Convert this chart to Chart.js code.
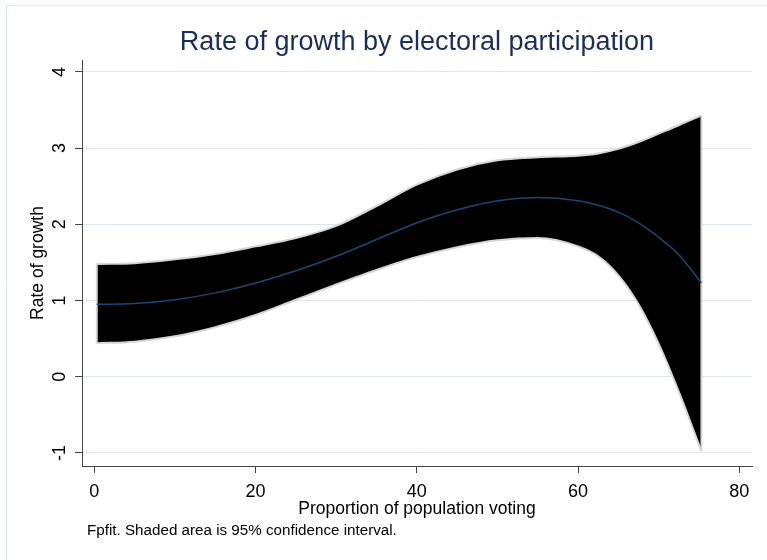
<!DOCTYPE html>
<html>
<head>
<meta charset="utf-8">
<script src="https://cdn.jsdelivr.net/npm/chart.js@4.4.1/dist/chart.umd.min.js"></script>
<style>
html,body{margin:0;padding:0;background:#fff;}
canvas{display:block;}
</style>
</head>
<body>
<canvas id="c" width="767" height="560"></canvas>
<script>
// ---- data ----
const voting  = [0.3, 5, 10, 15, 20, 25, 30, 35, 40, 45, 50, 55, 60, 62.5, 65, 67.5, 70, 72.5, 75.3];
const fitted  = [0.95, 0.96, 1.01, 1.10, 1.23, 1.39, 1.58, 1.80, 2.02, 2.19, 2.31, 2.35, 2.31, 2.25, 2.16, 2.02, 1.83, 1.60, 1.23];
const ciUpper = [1.48, 1.49, 1.54, 1.61, 1.71, 1.82, 1.98, 2.24, 2.52, 2.72, 2.84, 2.88, 2.90, 2.93, 2.99, 3.08, 3.19, 3.30, 3.43];
const ciLower = [0.44, 0.46, 0.53, 0.65, 0.81, 1.01, 1.21, 1.40, 1.57, 1.70, 1.79, 1.82, 1.71, 1.58, 1.33, 0.95, 0.43, -0.20, -0.98];
const xTicks = [0, 20, 40, 60, 80];
const yTicks = [-1, 0, 1, 2, 3, 4];
const titleText = 'Rate of growth by electoral participation';
const xTitle = 'Proportion of population voting';
const yTitle = 'Rate of growth';
const noteText = 'Fpfit. Shaded area is 95% confidence interval.';

const FONT = '"Liberation Sans", Arial, sans-serif';
const pts = (ys) => voting.map((x, i) => ({x: x, y: ys[i]}));
const last = voting.length - 1;

const framePlugin = {
  id: 'frame',
  beforeDraw(chart) {
    const ctx = chart.ctx;
    ctx.save();
    ctx.fillStyle = '#ffffff';
    ctx.fillRect(0, 0, chart.width, chart.height);
    ctx.strokeStyle = '#dde5ef';
    ctx.lineWidth = 1;
    ctx.beginPath();
    ctx.moveTo(6.5, chart.height);
    ctx.lineTo(6.5, 5.5);
    ctx.lineTo(chart.width, 5.5);
    ctx.stroke();
    ctx.restore();
  },
  afterDraw(chart) {
    const ctx = chart.ctx;
    ctx.save();
    ctx.fillStyle = '#000';
    ctx.font = '15.2px ' + FONT;
    ctx.textBaseline = 'middle';
    ctx.textAlign = 'left';
    ctx.fillText(noteText, 87, 531);
    ctx.restore();
  }
};

new Chart(document.getElementById('c'), {
  type: 'line',
  data: {
    datasets: [
      {
        label: 'fit', data: pts(fitted), borderColor: '#1a476f', borderWidth: 1.5,
        pointRadius: 0, fill: false, cubicInterpolationMode: 'monotone'
      },
      {
        label: 'upper', data: pts(ciUpper), borderColor: '#d6d6d6', borderWidth: 2,
        pointRadius: 0, fill: '+1', backgroundColor: '#000000', cubicInterpolationMode: 'monotone'
      },
      {
        label: 'lower', data: pts(ciLower), borderColor: '#d6d6d6', borderWidth: 2,
        pointRadius: 0, fill: false, cubicInterpolationMode: 'monotone'
      },
      {
        label: 'leftEdge', data: [{x: voting[0], y: ciLower[0]}, {x: voting[0], y: ciUpper[0]}],
        borderColor: '#d6d6d6', borderWidth: 2, pointRadius: 0, fill: false, tension: 0
      },
      {
        label: 'rightEdge', data: [{x: voting[last], y: ciLower[last]}, {x: voting[last], y: ciUpper[last]}],
        borderColor: '#d6d6d6', borderWidth: 2, pointRadius: 0, fill: false, tension: 0
      }
    ]
  },
  options: {
    responsive: false,
    animation: false,
    devicePixelRatio: 1,
    layout: {padding: {left: 6, right: 15, top: 0, bottom: 34}},
    plugins: {
      legend: {display: false},
      tooltip: {enabled: false},
      filler: {drawTime: 'beforeDatasetsDraw'},
      title: {
        display: true, text: titleText, color: '#1c2d5a', fullSize: false,
        font: {family: FONT, size: 27, weight: 'normal', lineHeight: 1.0},
        padding: {top: 29.5, bottom: 3.5}
      }
    },
    scales: {
      x: {
        type: 'linear', min: -1.53, max: 81.57,
        afterBuildTicks: (s) => { s.ticks = xTicks.map(v => ({value: v})); },
        afterFit: (s) => { s.height = 60; },
        ticks: {
          color: '#000', padding: 8, maxRotation: 0,
          font: {family: FONT, size: 18, lineHeight: 1.2},
          callback: (v) => String(v)
        },
        grid: {drawOnChartArea: false, drawTicks: true, tickLength: 7, tickColor: '#444', tickWidth: 1},
        border: {display: true, color: '#444', width: 1},
        title: {
          display: true, text: xTitle, color: '#000',
          font: {family: FONT, size: 17.5, lineHeight: 1.2},
          padding: {top: 0, bottom: 6.5}
        }
      },
      y: {
        type: 'linear', min: -1.172, max: 4.156,
        afterBuildTicks: (s) => { s.ticks = yTicks.map(v => ({value: v})); },
        afterFit: (s) => { s.width = 76; },
        ticks: {
          color: '#000', padding: 7, minRotation: 90, maxRotation: 90, crossAlign: 'center',
          font: {family: FONT, size: 18, lineHeight: 1.2},
          callback: (v) => String(v)
        },
        grid: {color: '#dde5ef', lineWidth: 1, drawTicks: true, tickLength: 7, tickColor: '#444', tickWidth: 1},
        border: {display: true, color: '#444', width: 1},
        title: {
          display: true, text: yTitle, color: '#000',
          font: {family: FONT, size: 17.5, lineHeight: 1.2},
          padding: {top: 21.5, bottom: 0}
        }
      }
    }
  },
  plugins: [framePlugin]
});
</script>
</body>
</html>
